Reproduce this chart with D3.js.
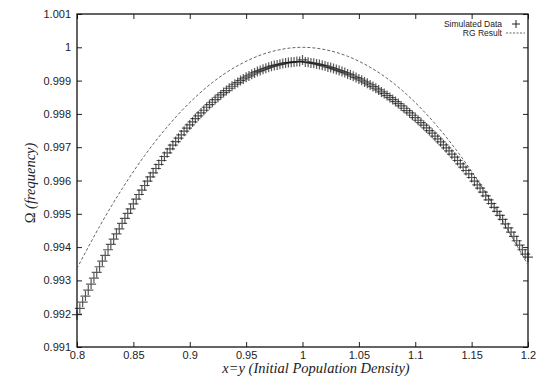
<!DOCTYPE html>
<html>
<head>
<meta charset="utf-8">
<script src="https://cdn.jsdelivr.net/npm/d3@7"></script>
<style>
  body { margin: 0; background: #fff; }
  svg { display: block; }
</style>
</head>
<body>
<div id="viz"></div>
<script>
// tick values and labels
const xTicks = [0.8, 0.85, 0.9, 0.95, 1, 1.05, 1.1, 1.15, 1.2];
const xTickLabels = ['0.8', '0.85', '0.9', '0.95', '1', '1.05', '1.1', '1.15', '1.2'];
const yTicks = [0.991, 0.992, 0.993, 0.994, 0.995, 0.996, 0.997, 0.998, 0.999, 1, 1.001];
const yTickLabels = ['0.991', '0.992', '0.993', '0.994', '0.995', '0.996', '0.997', '0.998', '0.999', '1', '1.001'];

// simulated data (+ markers)
const simX = [
  0.8000, 0.8025, 0.8050, 0.8075, 0.8100, 0.8125, 0.8150, 0.8175, 0.8200, 0.8225,
  0.8250, 0.8275, 0.8300, 0.8325, 0.8350, 0.8375, 0.8400, 0.8425, 0.8450, 0.8475,
  0.8500, 0.8525, 0.8550, 0.8575, 0.8600, 0.8625, 0.8650, 0.8675, 0.8700, 0.8725,
  0.8750, 0.8775, 0.8800, 0.8825, 0.8850, 0.8875, 0.8900, 0.8925, 0.8950, 0.8975,
  0.9000, 0.9025, 0.9050, 0.9075, 0.9100, 0.9125, 0.9150, 0.9175, 0.9200, 0.9225,
  0.9250, 0.9275, 0.9300, 0.9325, 0.9350, 0.9375, 0.9400, 0.9425, 0.9450, 0.9475,
  0.9500, 0.9525, 0.9550, 0.9575, 0.9600, 0.9625, 0.9650, 0.9675, 0.9700, 0.9725,
  0.9750, 0.9775, 0.9800, 0.9825, 0.9850, 0.9875, 0.9900, 0.9925, 0.9950, 0.9975,
  1.0000, 1.0025, 1.0050, 1.0075, 1.0100, 1.0125, 1.0150, 1.0175, 1.0200, 1.0225,
  1.0250, 1.0275, 1.0300, 1.0325, 1.0350, 1.0375, 1.0400, 1.0425, 1.0450, 1.0475,
  1.0500, 1.0525, 1.0550, 1.0575, 1.0600, 1.0625, 1.0650, 1.0675, 1.0700, 1.0725,
  1.0750, 1.0775, 1.0800, 1.0825, 1.0850, 1.0875, 1.0900, 1.0925, 1.0950, 1.0975,
  1.1000, 1.1025, 1.1050, 1.1075, 1.1100, 1.1125, 1.1150, 1.1175, 1.1200, 1.1225,
  1.1250, 1.1275, 1.1300, 1.1325, 1.1350, 1.1375, 1.1400, 1.1425, 1.1450, 1.1475,
  1.1500, 1.1525, 1.1550, 1.1575, 1.1600, 1.1625, 1.1650, 1.1675, 1.1700, 1.1725,
  1.1750, 1.1775, 1.1800, 1.1825, 1.1850, 1.1875, 1.1900, 1.1925, 1.1950, 1.1975,
  1.2000
];
const simY = [
  0.99197, 0.99216, 0.99235, 0.99253, 0.99271, 0.99289, 0.99307, 0.99324, 0.99341, 0.99358,
  0.99375, 0.99392, 0.99408, 0.99424, 0.99440, 0.99455, 0.99471, 0.99486, 0.99501, 0.99515,
  0.99530, 0.99544, 0.99558, 0.99571, 0.99585, 0.99598, 0.99611, 0.99623, 0.99636, 0.99648,
  0.99660, 0.99672, 0.99683, 0.99695, 0.99706, 0.99717, 0.99727, 0.99737, 0.99748, 0.99757,
  0.99767, 0.99776, 0.99786, 0.99794, 0.99803, 0.99811, 0.99820, 0.99828, 0.99835, 0.99843,
  0.99850, 0.99857, 0.99864, 0.99870, 0.99877, 0.99883, 0.99889, 0.99894, 0.99900, 0.99905,
  0.99910, 0.99914, 0.99919, 0.99923, 0.99927, 0.99930, 0.99934, 0.99937, 0.99940, 0.99943,
  0.99945, 0.99947, 0.99949, 0.99951, 0.99953, 0.99954, 0.99955, 0.99956, 0.99957, 0.99957,
  0.99962, 0.99956, 0.99955, 0.99953, 0.99952, 0.99950, 0.99948, 0.99946, 0.99944, 0.99941,
  0.99939, 0.99936, 0.99933, 0.99930, 0.99927, 0.99924, 0.99920, 0.99917, 0.99913, 0.99909,
  0.99905, 0.99901, 0.99896, 0.99892, 0.99887, 0.99882, 0.99877, 0.99872, 0.99866, 0.99861,
  0.99855, 0.99849, 0.99843, 0.99837, 0.99831, 0.99824, 0.99817, 0.99810, 0.99803, 0.99796,
  0.99789, 0.99781, 0.99774, 0.99766, 0.99758, 0.99750, 0.99742, 0.99733, 0.99725, 0.99716,
  0.99707, 0.99698, 0.99689, 0.99679, 0.99670, 0.99660, 0.99650, 0.99640, 0.99630, 0.99620,
  0.99609, 0.99598, 0.99587, 0.99577, 0.99565, 0.99554, 0.99542, 0.99531, 0.99519, 0.99507,
  0.99495, 0.99483, 0.99470, 0.99458, 0.99445, 0.99432, 0.99419, 0.99406, 0.99392, 0.99379,
  0.99370
];

// RG result (dashed line)
const rgX = [0.80, 0.82, 0.84, 0.86, 0.88, 0.90, 0.92, 0.94, 0.96, 0.98, 1.00,
  1.02, 1.04, 1.06, 1.08, 1.10, 1.12, 1.14, 1.16, 1.18, 1.20];
const rgY = [0.99336, 0.99462, 0.99575, 0.99675, 0.99761, 0.99834, 0.99894, 0.99940, 0.99973, 0.99993, 1.00000,
  0.99993, 0.99973, 0.99940, 0.99894, 0.99834, 0.99761, 0.99675, 0.99576, 0.99464, 0.99346];

const legendLabels = ['Simulated Data', 'RG Result'];

(() => {
  let W = 545, H = 382;
  let margin = { top: 14, right: 17, bottom: 35, left: 77 },
    width = W - margin.left - margin.right,
    height = H - margin.top - margin.bottom;

  let svg = d3.select('#viz')
    .append('svg')
    .attr('width', W)
    .attr('height', H);

  let g = svg.append('g')
    .attr('transform', `translate(${margin.left},${margin.top})`);

  let x = d3.scaleLinear().domain([0.8, 1.2]).range([0, width]);
  let y = d3.scaleLinear().domain([0.991, 1.001]).range([height, 0]);

  let tickFont = '"Liberation Sans", Arial, sans-serif';

  // bottom axis, inward ticks
  g.append('g')
    .attr('transform', `translate(0,${height})`)
    .call(d3.axisBottom(x).tickValues(xTicks)
      .tickFormat((d, i) => xTickLabels[i])
      .tickSizeInner(-5).tickSizeOuter(0).tickPadding(4))
    .call(a => a.select('.domain').remove())
    .call(a => a.selectAll('line').attr('stroke', '#222'))
    .selectAll('text')
    .style('font-family', tickFont)
    .style('font-size', '11px')
    .attr('fill', '#222');

  // top mirror ticks
  g.append('g')
    .call(d3.axisTop(x).tickValues(xTicks).tickFormat('')
      .tickSizeInner(-5).tickSizeOuter(0))
    .call(a => a.select('.domain').remove())
    .call(a => a.selectAll('line').attr('stroke', '#222'));

  // left axis
  g.append('g')
    .call(d3.axisLeft(y).tickValues(yTicks)
      .tickFormat((d, i) => yTickLabels[i])
      .tickSizeInner(-5).tickSizeOuter(0).tickPadding(6))
    .call(a => a.select('.domain').remove())
    .call(a => a.selectAll('line').attr('stroke', '#222'))
    .selectAll('text')
    .style('font-family', tickFont)
    .style('font-size', '11px')
    .attr('fill', '#222');

  // right mirror ticks
  g.append('g')
    .attr('transform', `translate(${width},0)`)
    .call(d3.axisRight(y).tickValues(yTicks).tickFormat('')
      .tickSizeInner(-5).tickSizeOuter(0))
    .call(a => a.select('.domain').remove())
    .call(a => a.selectAll('line').attr('stroke', '#222'));

  // frame
  g.append('rect')
    .attr('width', width)
    .attr('height', height)
    .attr('fill', 'none')
    .attr('stroke', '#111')
    .attr('stroke-width', 1.3);

  // RG result dashed curve
  let rg = rgX.map((d, i) => ({ x: d, y: rgY[i] }));
  g.append('path')
    .datum(rg)
    .attr('fill', 'none')
    .attr('stroke', '#555')
    .attr('stroke-width', 0.9)
    .attr('stroke-dasharray', '3,2')
    .attr('d', d3.line().x(d => x(d.x)).y(d => y(d.y)).curve(d3.curveCatmullRom));

  // simulated data as + markers
  let sim = simX.map((d, i) => ({ x: d, y: simY[i] }));
  g.selectAll('.sim')
    .data(sim)
    .join('path')
    .attr('class', 'sim')
    .attr('transform', d => `translate(${x(d.x)},${y(d.y)})`)
    .attr('d', 'M-5,0H5M0,-5V5')
    .attr('stroke', '#111')
    .attr('stroke-opacity', 0.7)
    .attr('stroke-width', 1.2)
    .attr('fill', 'none');

  // legend
  let leg = g.append('g')
    .style('font-family', tickFont)
    .style('font-size', '8.5px')
    .attr('fill', '#222');

  leg.append('text')
    .attr('x', width - 26)
    .attr('y', 10)
    .attr('dy', '0.35em')
    .attr('text-anchor', 'end')
    .text(legendLabels[0]);

  leg.append('path')
    .attr('transform', `translate(${width - 12},10)`)
    .attr('d', 'M-4,0H4M0,-4V4')
    .attr('stroke', '#222');

  leg.append('text')
    .attr('x', width - 26)
    .attr('y', 19)
    .attr('dy', '0.35em')
    .attr('text-anchor', 'end')
    .text(legendLabels[1]);

  leg.append('line')
    .attr('x1', width - 22)
    .attr('x2', width - 3)
    .attr('y1', 19)
    .attr('y2', 19)
    .attr('stroke', '#555')
    .attr('stroke-width', 0.9)
    .attr('stroke-dasharray', '2,1.5');

  // axis titles
  svg.append('text')
    .attr('x', 316)
    .attr('y', 373)
    .attr('text-anchor', 'middle')
    .style('font-family', '"Liberation Serif", "Times New Roman", serif')
    .style('font-style', 'italic')
    .style('font-size', '14.5px')
    .attr('fill', '#222')
    .text('x=y (Initial Population Density)');

  let yl = svg.append('text')
    .attr('transform', 'translate(35,183) rotate(-90)')
    .attr('text-anchor', 'middle')
    .style('font-family', '"Liberation Serif", "Times New Roman", serif')
    .style('font-size', '14.5px')
    .attr('fill', '#222');
  yl.append('tspan').text('\u03A9 ');
  yl.append('tspan').style('font-style', 'italic').text('(frequency)');
})();
</script>
</body>
</html>
